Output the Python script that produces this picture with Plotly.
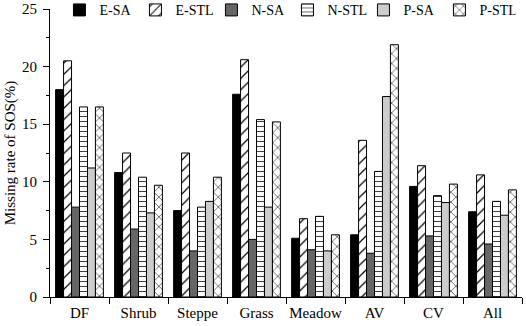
import plotly.graph_objects as go

categories = ["DF", "Shrub", "Steppe", "Grass", "Meadow", "AV", "CV", "All"]
series_names = ["E-SA", "E-STL", "N-SA", "N-STL", "P-SA", "P-STL"]
e_sa = [18.0, 10.8, 7.5, 17.6, 5.1, 5.4, 9.6, 7.4]
e_stl = [20.5, 12.5, 12.5, 20.6, 6.8, 13.6, 11.4, 10.6]
n_sa = [7.8, 5.9, 4.0, 5.0, 4.1, 3.8, 5.3, 4.6]
n_stl = [16.5, 10.4, 7.8, 15.4, 7.0, 10.9, 8.8, 8.3]
p_sa = [11.2, 7.3, 8.3, 7.8, 4.0, 17.4, 8.2, 7.1]
p_stl = [16.5, 9.7, 10.4, 15.2, 5.4, 21.9, 9.8, 9.3]
y_ticks = [0, 5, 10, 15, 20, 25]

values = [e_sa, e_stl, n_sa, n_stl, p_sa, p_stl]
fills = ["#000000", "#ffffff", "#666666", "#ffffff", "#cccccc", "#ffffff"]
patterns = ["", "/", "", "-", "", "x"]
psizes = [8, 8, 8, 5, 8, 7]

FONT = "Liberation Serif, Times New Roman, serif"

fig = go.Figure()
for name, vals, fc, pat, ps in zip(series_names, values, fills, patterns, psizes):
    marker = dict(color=fc, line=dict(color="#000000", width=1))
    if pat:
        marker["pattern"] = dict(shape=pat, fgcolor="#000000", bgcolor="#ffffff",
                                 size=ps, solidity=0.15, fillmode="replace")
    fig.add_trace(go.Bar(name=name, x=categories, y=vals, marker=marker))

fig.update_layout(
    width=526, height=326,
    margin=dict(l=50, r=4, t=9, b=29, autoexpand=False),
    paper_bgcolor="white", plot_bgcolor="white",
    barmode="group", bargap=0.19, bargroupgap=0,
    font=dict(family=FONT, size=14, color="#000000"),
    showlegend=True,
    legend=dict(orientation="h", x=0.02, xanchor="left", y=1.051, yanchor="top",
                bgcolor="rgba(0,0,0,0)", font=dict(size=14, family=FONT),
                itemwidth=30, tracegroupgap=0, entrywidth=31, entrywidthmode="pixels"),
    xaxis=dict(showline=True, linecolor="#000000", linewidth=1, ticks="outside",
               tickson="boundaries", ticklen=6, tickcolor="#000000", tickangle=0,
               automargin=False, ticklabelstandoff=2,
               tickfont=dict(size=15, family=FONT), showgrid=False, zeroline=False),
    yaxis=dict(range=[0, 25], tickvals=y_ticks, showline=True, linecolor="#000000",
               linewidth=1, ticks="outside", ticklen=6, tickcolor="#000000",
               automargin=False, ticklabelstandoff=3,
               tickfont=dict(size=15, family=FONT), showgrid=False, zeroline=False,
               minor=dict(ticks="outside", ticklen=3, dtick=2.5, tickcolor="#000000"),
               title=dict(text="Missing rate of SOS(%)", font=dict(size=15, family=FONT),
                          standoff=2)),
)

fig.write_html("out.html", config={"displayModeBar": False},
               post_script="document.body.style.margin='0';")
